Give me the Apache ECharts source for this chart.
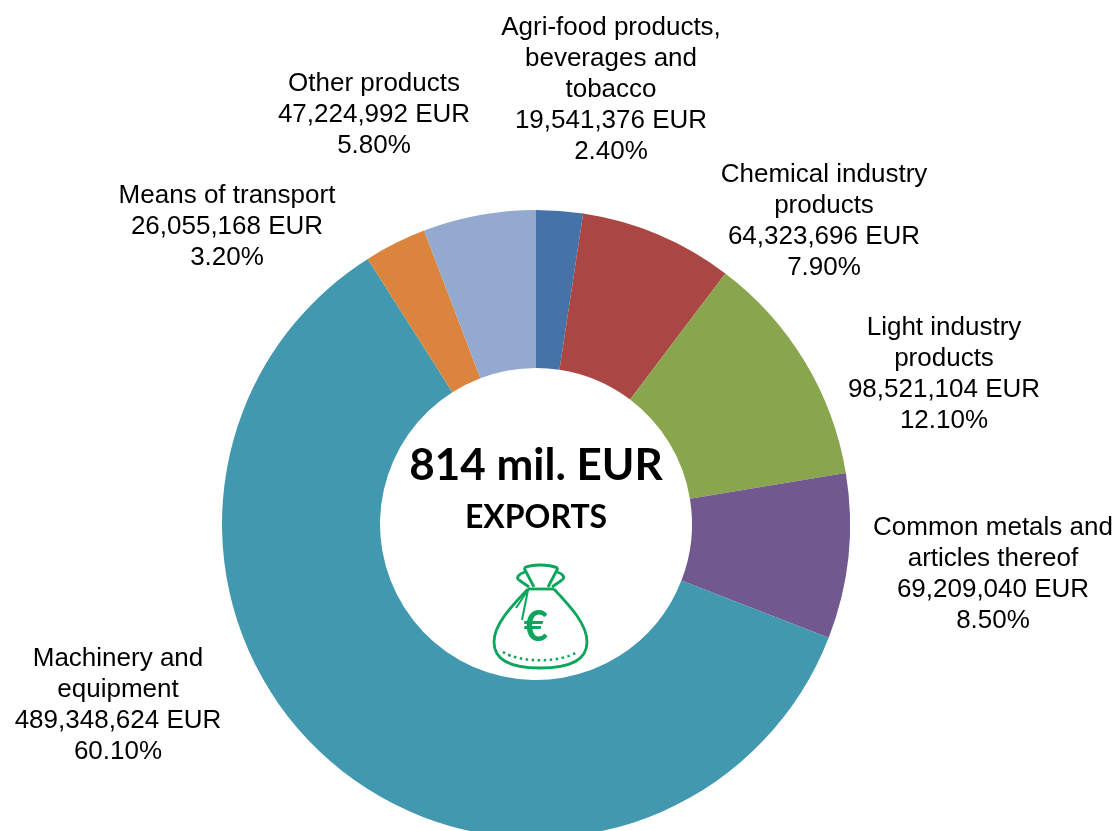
<!DOCTYPE html>
<html><head><meta charset="utf-8">
<style>html,body{margin:0;padding:0;background:#fff}#c{width:1118px;height:831px}</style>
<script src="https://cdn.jsdelivr.net/npm/echarts@6/dist/echarts.min.js"></script>
</head><body><div id="c"></div>
<script>
const names = ['Agri-food products,\nbeverages and\ntobacco','Chemical industry\nproducts','Light industry\nproducts','Common metals and\narticles thereof','Machinery and\nequipment','Means of transport','Other products'];
const values = [19541376,64323696,98521104,69209040,489348624,26055168,47224992];
const percents = ['2.40%','7.90%','12.10%','8.50%','60.10%','3.20%','5.80%'];
const colors = ['#4572A7','#AA4643','#89A54E','#71588F','#4198AF','#DB843D','#93A9CF'];
const labelCenters = [[611,90],[824,221],[944,374],[993,574],[118,705],[227,227],[374,115]];
const fmt = v => v.toLocaleString('en-US');
const chart = echarts.init(document.getElementById('c'));
const F = '"Liberation Sans",Arial,sans-serif';
const G = '#0BA55C';
const bez = (x1,y1,c1x,c1y,c2x,c2y,x2,y2,w) => ({type:'bezierCurve',shape:{x1,y1,cpx1:c1x,cpy1:c1y,cpx2:c2x,cpy2:c2y,x2,y2},style:{fill:'none',stroke:G,lineWidth:w||2.8}});
const poly = (points,w) => ({type:'polyline',shape:{points},style:{fill:'none',stroke:G,lineWidth:w||2.8}});
chart.setOption({
  animation:false,
  series:[{
    type:'pie', center:[536,524], radius:[156,314], startAngle:90, clockwise:true,
    avoidLabelOverlap:false, silent:true,
    data:names.map((n,i)=>({name:n,value:values[i],itemStyle:{color:colors[i]}})),
    label:{show:true,position:'outside',color:'#000',fontFamily:F,fontSize:26,lineHeight:31,align:'center',
      formatter:p=>p.name+'\n'+fmt(p.value)+' EUR\n'+percents[p.dataIndex]},
    labelLine:{show:false},
    labelLayout:p=>({x:labelCenters[p.dataIndex][0],y:labelCenters[p.dataIndex][1],align:'center',verticalAlign:'middle'})
  }],
  graphic:[
    {type:'text',style:{x:536,y:466,text:'814 mil. EUR',font:'bold 44px Lato,'+F,fill:'#000',align:'center',verticalAlign:'middle'}},
    {type:'text',style:{x:536,y:518,text:'EXPORTS',font:'bold 32px Lato,'+F,fill:'#000',align:'center',verticalAlign:'middle'}},
    {type:'group',x:470,y:430,silent:true,children:[
      bez(54,138,62,134,78,134,88,138),
      poly([[54,138],[64,157]]), poly([[88,138],[78,157]]),
      bez(55,142,48,144,46,148,49,150), poly([[49,150],[59,157]]),
      bez(87,142,94,144,95,148,92,150), poly([[92,150],[82,157]]),
      poly([[58,159],[84,159]]),
      bez(58,159,42,176,24,194,24,212), bez(24,212,24,232,44,238,70,238),
      bez(84,159,100,176,117,194,117,212), bez(117,212,117,232,97,238,70,238),
      poly([[58,160],[46,178]],2), poly([[58,160],[52,190]],2),
      {type:'text',style:{x:66,y:197,text:'€',font:'bold 42px Lato,sans-serif',fill:G,align:'center',verticalAlign:'middle'}},
      {type:'bezierCurve',shape:{x1:33,y1:222,cpx1:50,cpy1:233,cpx2:90,cpy2:233,x2:107,y2:222},style:{fill:'none',stroke:G,lineWidth:2.5,lineDash:[2.5,3.5]}}
    ]}
  ]
});
</script></body></html>
